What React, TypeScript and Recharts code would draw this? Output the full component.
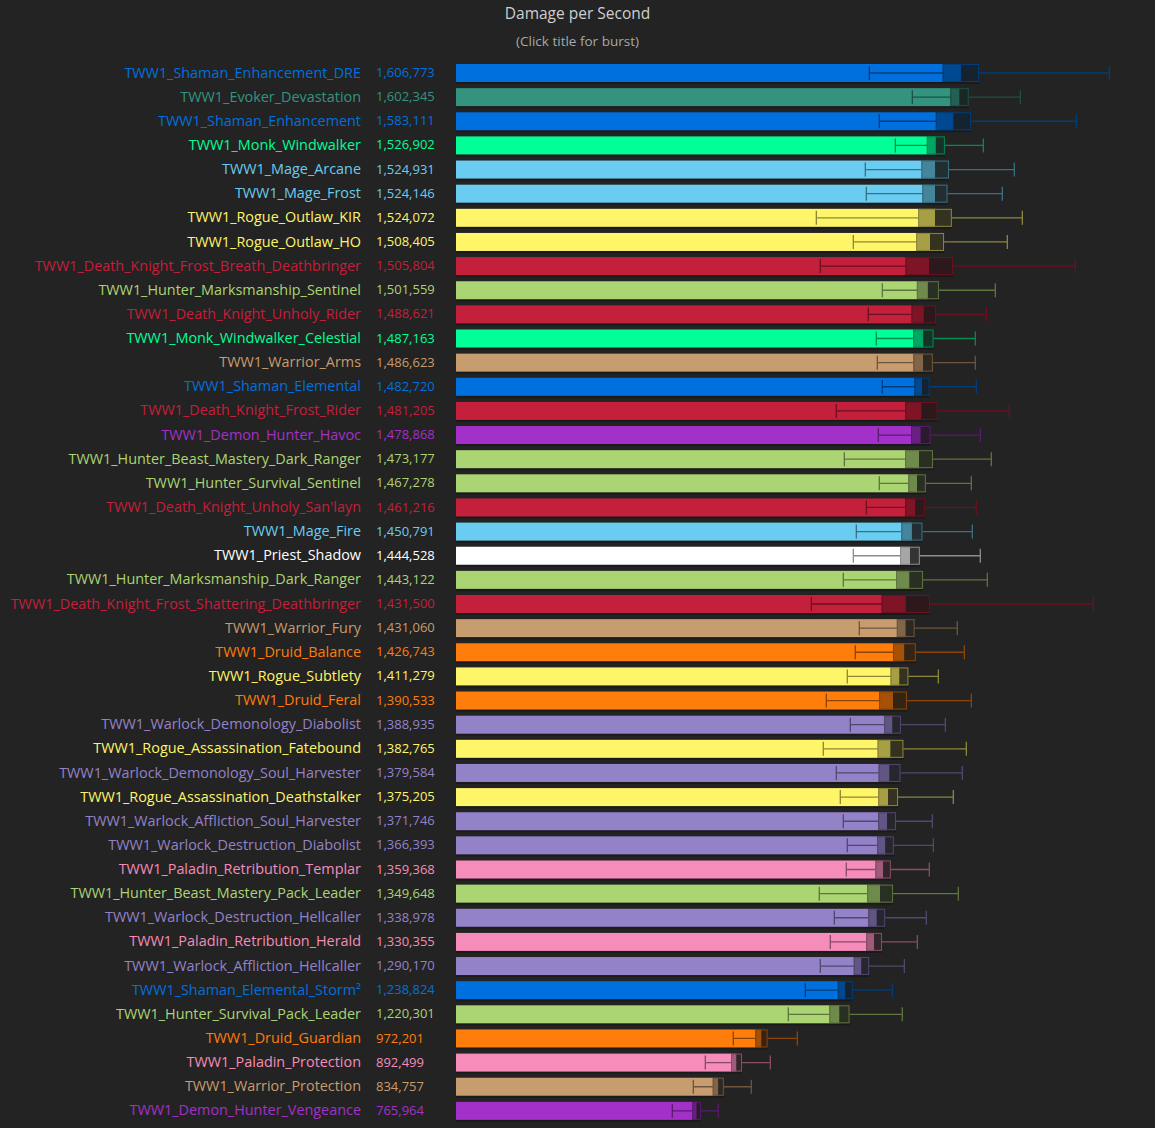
import React from 'react';
import { BarChart, Bar, XAxis, YAxis } from 'recharts';

const names = [
    'TWW1_Shaman_Enhancement_DRE',
    'TWW1_Evoker_Devastation',
    'TWW1_Shaman_Enhancement',
    'TWW1_Monk_Windwalker',
    'TWW1_Mage_Arcane',
    'TWW1_Mage_Frost',
    'TWW1_Rogue_Outlaw_KIR',
    'TWW1_Rogue_Outlaw_HO',
    'TWW1_Death_Knight_Frost_Breath_Deathbringer',
    'TWW1_Hunter_Marksmanship_Sentinel',
    'TWW1_Death_Knight_Unholy_Rider',
    'TWW1_Monk_Windwalker_Celestial',
    'TWW1_Warrior_Arms',
    'TWW1_Shaman_Elemental',
    'TWW1_Death_Knight_Frost_Rider',
    'TWW1_Demon_Hunter_Havoc',
    'TWW1_Hunter_Beast_Mastery_Dark_Ranger',
    'TWW1_Hunter_Survival_Sentinel',
    "TWW1_Death_Knight_Unholy_San'layn",
    'TWW1_Mage_Fire',
    'TWW1_Priest_Shadow',
    'TWW1_Hunter_Marksmanship_Dark_Ranger',
    'TWW1_Death_Knight_Frost_Shattering_Deathbringer',
    'TWW1_Warrior_Fury',
    'TWW1_Druid_Balance',
    'TWW1_Rogue_Subtlety',
    'TWW1_Druid_Feral',
    'TWW1_Warlock_Demonology_Diabolist',
    'TWW1_Rogue_Assassination_Fatebound',
    'TWW1_Warlock_Demonology_Soul_Harvester',
    'TWW1_Rogue_Assassination_Deathstalker',
    'TWW1_Warlock_Affliction_Soul_Harvester',
    'TWW1_Warlock_Destruction_Diabolist',
    'TWW1_Paladin_Retribution_Templar',
    'TWW1_Hunter_Beast_Mastery_Pack_Leader',
    'TWW1_Warlock_Destruction_Hellcaller',
    'TWW1_Paladin_Retribution_Herald',
    'TWW1_Warlock_Affliction_Hellcaller',
    'TWW1_Shaman_Elemental_Storm²',
    'TWW1_Hunter_Survival_Pack_Leader',
    'TWW1_Druid_Guardian',
    'TWW1_Paladin_Protection',
    'TWW1_Warrior_Protection',
    'TWW1_Demon_Hunter_Vengeance'
];

const classes = [
    'shaman', 'evoker', 'shaman', 'monk', 'mage', 'mage', 'rogue', 'rogue', 'dk', 'hunter',
    'dk', 'monk', 'warrior', 'shaman', 'dk', 'dh', 'hunter', 'hunter', 'dk', 'mage',
    'priest', 'hunter', 'dk', 'warrior', 'druid', 'rogue', 'druid', 'warlock', 'rogue', 'warlock',
    'rogue', 'warlock', 'warlock', 'paladin', 'hunter', 'warlock', 'paladin', 'warlock', 'shaman', 'hunter',
    'druid', 'paladin', 'warrior', 'dh'
];

const dps = [
    1606773, 1602345, 1583111, 1526902, 1524931, 1524146, 1524072, 1508405, 1505804, 1501559,
    1488621, 1487163, 1486623, 1482720, 1481205, 1478868, 1473177, 1467278, 1461216, 1450791,
    1444528, 1443122, 1431500, 1431060, 1426743, 1411279, 1390533, 1388935, 1382765, 1379584,
    1375205, 1371746, 1366393, 1359368, 1349648, 1338978, 1330355, 1290170, 1238824, 1220301,
    972201, 892499, 834757, 765964
];

// half width of the dark box around the mean
const errs = [
    57900, 29100, 56200, 28600, 43600, 39800, 53600, 44500, 75300, 35000,
    38700, 32300, 30700, 24300, 51400, 30900, 44500, 27700, 31800, 33400,
    31300, 43000, 76800, 28200, 36100, 28200, 44100, 26600, 40900, 34500,
    31300, 28200, 26600, 24300, 40900, 26600, 25000, 24300, 23900, 31800,
    19100, 17500, 17500, 13200
];

const whiskerLow = [
    1315100, 1451900, 1346900, 1397900, 1302400, 1305600, 1146500, 1264200, 1159200, 1356500,
    1311900, 1337400, 1340600, 1356500, 1210100, 1343800, 1235600, 1346900, 1305600, 1273800,
    1264200, 1232400, 1130600, 1283300, 1270600, 1245100, 1178300, 1254700, 1168700, 1210100,
    1222800, 1232400, 1245100, 1241900, 1156000, 1203800, 1191000, 1159200, 1111500, 1057400,
    882400, 793300, 755100, 688300
];

const whiskerHigh = [
    2078800, 1795600, 1973800, 1677900, 1776500, 1738300, 1802000, 1754200, 1970600, 1716100,
    1687400, 1652400, 1652400, 1655600, 1760600, 1668300, 1703300, 1639700, 1655600, 1642900,
    1668300, 1690600, 2027900, 1595100, 1617400, 1534700, 1639700, 1556900, 1623800, 1611000,
    1582400, 1515600, 1518800, 1506000, 1598300, 1496500, 1467900, 1426500, 1388300, 1420100,
    1086000, 1000100, 939600, 834600
];

const classColors: Record<string, string> = {
    shaman: '#0070DE',
    evoker: '#33937F',
    monk: '#00FF96',
    mage: '#69CCF0',
    rogue: '#FFF569',
    dk: '#C41F3B',
    hunter: '#ABD473',
    warrior: '#C79C6E',
    dh: '#A330C9',
    priest: '#FFFFFF',
    druid: '#FF7D0A',
    warlock: '#9482C9',
    paladin: '#F58CBA'
};

const BG = '#232323';
const FONT = '"Open Sans", "Noto Sans", sans-serif';

function rgb(hex: string) {
    const n = parseInt(hex.slice(1), 16);
    return [(n >> 16) & 255, (n >> 8) & 255, n & 255];
}

function mix(hex: string, other: string, t: number) {
    const a = rgb(hex);
    const b = rgb(other);
    const c = a.map((v, i) => Math.round(v * t + b[i] * (1 - t)));
    return `rgb(${c[0]},${c[1]},${c[2]})`;
}

const data = names.map((name, i) => ({
    name,
    dps: dps[i],
    err: errs[i],
    lo: whiskerLow[i],
    hi: whiskerHigh[i],
    color: classColors[classes[i]]
}));

function DpsBar(props: any) {
    const { x, y, width, height, payload } = props;
    const k = width / payload.dps;
    const px = (v: number) => x + v * k;
    const c = payload.color;
    const line = mix(c, '#000000', 0.55);
    const xa = px(payload.dps - payload.err);
    const xm = px(payload.dps);
    const xb = px(payload.dps + payload.err);
    const xl = px(payload.lo);
    const xh = px(payload.hi);
    const cy = y + height / 2;
    return (
        <g>
            <rect x={x} y={y + height} width={xb - x} height={2} fill="#1a1a1a" />
            <rect x={x} y={y} width={xa - x} height={height} fill={c} />
            <line x1={xl} x2={xh} y1={cy} y2={cy} stroke={line} strokeWidth={1.3} />
            <line x1={xl} x2={xl} y1={cy - 7} y2={cy + 7} stroke={line} strokeWidth={1.3} />
            <line x1={xh} x2={xh} y1={cy - 7} y2={cy + 7} stroke={line} strokeWidth={1.3} />
            <rect x={xa} y={y} width={xm - xa} height={height} fill={mix(c, '#000000', 0.65)} />
            <rect x={xm} y={y} width={xb - xm} height={height} fill={mix(c, '#181818', 0.12)} />
            <rect x={xa + 0.5} y={y + 0.5} width={xb - xa - 1} height={height - 1} fill="none" stroke={line} strokeWidth={1} />
        </g>
    );
}

function RowTick(props: any) {
    const { y, payload } = props;
    const i = payload.index;
    const c = classColors[classes[i]];
    return (
        <g>
            <text x={361} y={y} dy={4.5} textAnchor="end" fill={c} fontSize={14.4} fontFamily={FONT}>
                {names[i]}
            </text>
            <text x={376} y={y} dy={4} textAnchor="start" fill={c} fontSize={13} fontFamily={FONT}>
                {dps[i].toLocaleString('en-US')}
            </text>
        </g>
    );
}

export default function App() {
    return (
        <div style={{ position: 'fixed', left: 0, top: 0, width: 1155, height: 1128, background: BG, fontFamily: FONT }}>
            <div style={{ position: 'absolute', left: 0, width: 1155, top: 2, textAlign: 'center', color: '#cfcfcf', fontSize: 15.5 }}>
                Damage per Second
            </div>
            <div style={{ position: 'absolute', left: 0, width: 1155, top: 32, textAlign: 'center', color: '#a8a8a8', fontSize: 13.5 }}>
                (Click title for burst)
            </div>
            <BarChart
                width={1155}
                height={1128}
                data={data}
                layout="vertical"
                margin={{ top: 61, right: 39, bottom: 5, left: 0 }}
                barSize={18}
            >
                <XAxis type="number" domain={[0, 2100000]} hide />
                <YAxis
                    type="category"
                    dataKey="name"
                    width={456}
                    interval={0}
                    axisLine={false}
                    tickLine={false}
                    tick={<RowTick />}
                />
                <Bar dataKey="dps" shape={<DpsBar />} isAnimationActive={false} />
            </BarChart>
        </div>
    );
}
